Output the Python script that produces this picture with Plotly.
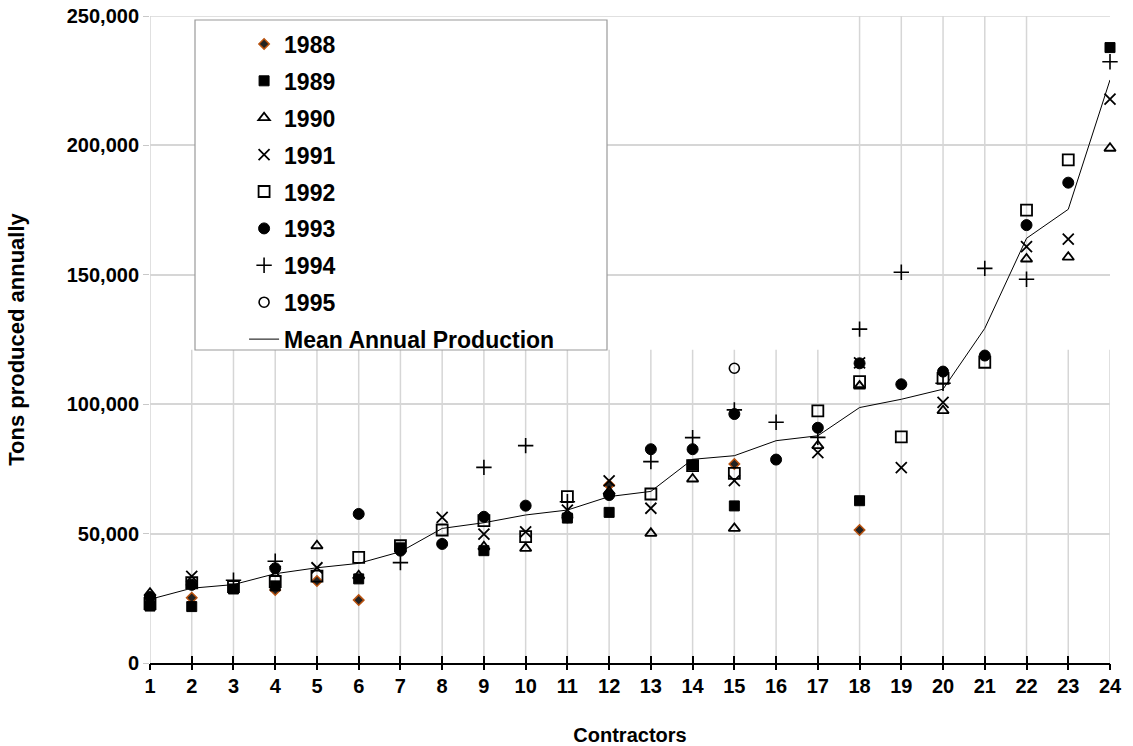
import plotly.graph_objects as go

contractors = list(range(1, 25))
tick_labels = [str(c) for c in contractors]

N = None
y1988 = [N, 25200, N, 28200, 31700, 24300, N, N, N, N, N, 68800, N, N, 76900, N, N, 51400, N, N, N, N, N, N]
y1989 = [22000, 21800, 28600, 29800, N, 32500, 44500, N, 43400, N, 56000, 58200, N, 76500, 60700, N, N, 62700, N, N, N, N, N, 237800]
y1990 = [27000, N, N, N, 45300, 33700, N, N, 44900, 44300, N, 66200, 50100, 71100, 52000, N, 84000, 107000, N, 97500, N, 156100, 156800, 198900]
y1991 = [N, 33500, N, 35300, 36800, N, N, 56300, 49800, 50700, 59100, 70400, 59800, N, 70500, N, 81300, 116000, 75500, 100700, N, 160900, 163800, 217900]
y1992 = [23000, 31000, 29500, 31500, 33600, 40800, 45300, 51400, 55000, 48800, 64300, N, 65300, 76300, 73300, N, 97400, 108700, 87400, 110000, 116200, 175000, 194400, N]
y1993 = [25500, 30200, N, 36600, N, 57600, 43400, 46000, 56500, 60800, 56300, 64900, 82600, 82600, 96200, 78600, 90900, 115800, 107700, 112600, 118800, 169200, 185600, N]
y1994 = [N, N, 32000, 39300, N, N, 38800, N, 75600, 84000, 62300, N, 77800, 87100, 97800, 93000, 87200, 129000, 151000, 108100, 152500, 148300, N, 232300]
y1995 = [N, N, N, N, N, N, N, N, N, N, N, N, N, N, 113900, N, N, N, N, N, N, N, N, N]
mean_prod = [24600, 28900, 30300, 34500, 36800, 38500, 43000, 52000, 54200, 57200, 59100, 64300,
             66300, 78700, 80100, 85900, 87800, 98700, 101900, 105800, 129300, 164100, 175300, 225300]

y_ticks = [0, 50000, 100000, 150000, 200000, 250000]
# contractors whose vertical gridline runs the full height in the reference
full_grid = [1, 18, 19, 20, 21, 22]

FONT = "Arial, Liberation Sans, sans-serif"

series = [
    ("1988", y1988, dict(symbol="diamond", size=8, color="#222222", line=dict(color="#b8520f", width=1.5))),
    ("1989", y1989, dict(symbol="square", size=10, color="black", line=dict(color="black", width=1))),
    ("1990", y1990, dict(symbol="triangle-up-open", size=10, color="black", line=dict(color="black", width=1.8))),
    ("1991", y1991, dict(symbol="x-thin-open", size=11, color="black", line=dict(color="black", width=1.8))),
    ("1992", y1992, dict(symbol="square-open", size=11, color="black", line=dict(color="black", width=1.8))),
    ("1993", y1993, dict(symbol="circle", size=11, color="black", line=dict(color="black", width=1))),
    ("1994", y1994, dict(symbol="cross-thin-open", size=11, color="black", line=dict(color="black", width=1.6))),
    ("1995", y1995, dict(symbol="circle-open", size=10, color="black", line=dict(color="black", width=1.6))),
]

fig = go.Figure()
for i, (name, ys, mk) in enumerate(series):
    fig.add_trace(go.Scatter(x=contractors, y=ys, mode="markers", name=name, marker=mk,
                             cliponaxis=False, legendgroup=f"g{i}"))
fig.add_trace(go.Scatter(x=contractors, y=mean_prod, mode="lines", name="Mean Annual Production",
                         line=dict(color="black", width=1), cliponaxis=False, legendgroup="gm"))
# invisible helper trace so the second (tick-only) x axis is drawn
fig.add_trace(go.Scatter(x=contractors, y=mean_prod, mode="lines", xaxis="x2", showlegend=False,
                         opacity=0, hoverinfo="skip", line=dict(width=0)))

shapes = []
for c in contractors:
    top = 250000 if c in full_grid else 121000
    shapes.append(dict(type="line", xref="x", yref="y", x0=c, x1=c, y0=0, y1=top,
                       line=dict(color="#d6d6d6", width=1.5), layer="below"))
# top gridline (250,000)
shapes.append(dict(type="line", xref="paper", yref="y", x0=0, x1=1, y0=250000, y1=250000,
                   line=dict(color="#d6d6d6", width=1.5), layer="below"))
# legend frame
shapes.append(dict(type="rect", xref="paper", yref="paper",
                   x0=45/960, x1=457/960, y0=(663-350)/647, y1=(663-20)/647,
                   fillcolor="white", line=dict(color="#9a9a9a", width=1.2), layer="above"))

fig.update_layout(
    width=1133, height=746,
    margin=dict(l=150, r=23, t=16, b=83),
    paper_bgcolor="white", plot_bgcolor="white",
    font=dict(family=FONT, color="black"),
    showlegend=True,
    legend=dict(x=0.098, y=0.99, xanchor="left", yanchor="top",
                bgcolor="rgba(0,0,0,0)", borderwidth=0,
                font=dict(family=FONT, size=23, weight="bold", color="black"),
                tracegroupgap=4, itemwidth=30),
    shapes=shapes,
    xaxis=dict(range=[1, 24], tickvals=contractors, ticktext=tick_labels, automargin=False,
               showgrid=False, zeroline=False, showline=True, linecolor="black", linewidth=1.5,
               ticks="inside", ticklen=7, tickwidth=1.5, tickcolor="black", ticklabelstandoff=4,
               tickfont=dict(family=FONT, size=20, weight="bold"),
               title=dict(text="Contractors", font=dict(family=FONT, size=20, weight="bold"), standoff=34)),
    xaxis2=dict(range=[1, 24], overlaying="x", anchor="y", side="bottom", matches="x",
                tickvals=contractors, showticklabels=False, showgrid=False, zeroline=False,
                showline=False, ticks="outside", ticklen=6, tickwidth=1.5, tickcolor="black"),
    yaxis=dict(range=[0, 250000], tickvals=y_ticks, tickformat=",", automargin=False,
               ticklabeloverflow="allow",
               showgrid=True, gridcolor="#d6d6d6", gridwidth=1.5, zeroline=False, showline=False,
               ticks="outside", ticklen=6, tickcolor="#c8c8c8",
               tickfont=dict(family=FONT, size=20, weight="bold"),
               title=dict(text="Tons produced annually", font=dict(family=FONT, size=22, weight="bold"), standoff=36)),
)

fig.write_html("out.html", config={"displayModeBar": False},
               post_script="document.body.style.margin='0px';document.body.style.overflow='hidden';")
